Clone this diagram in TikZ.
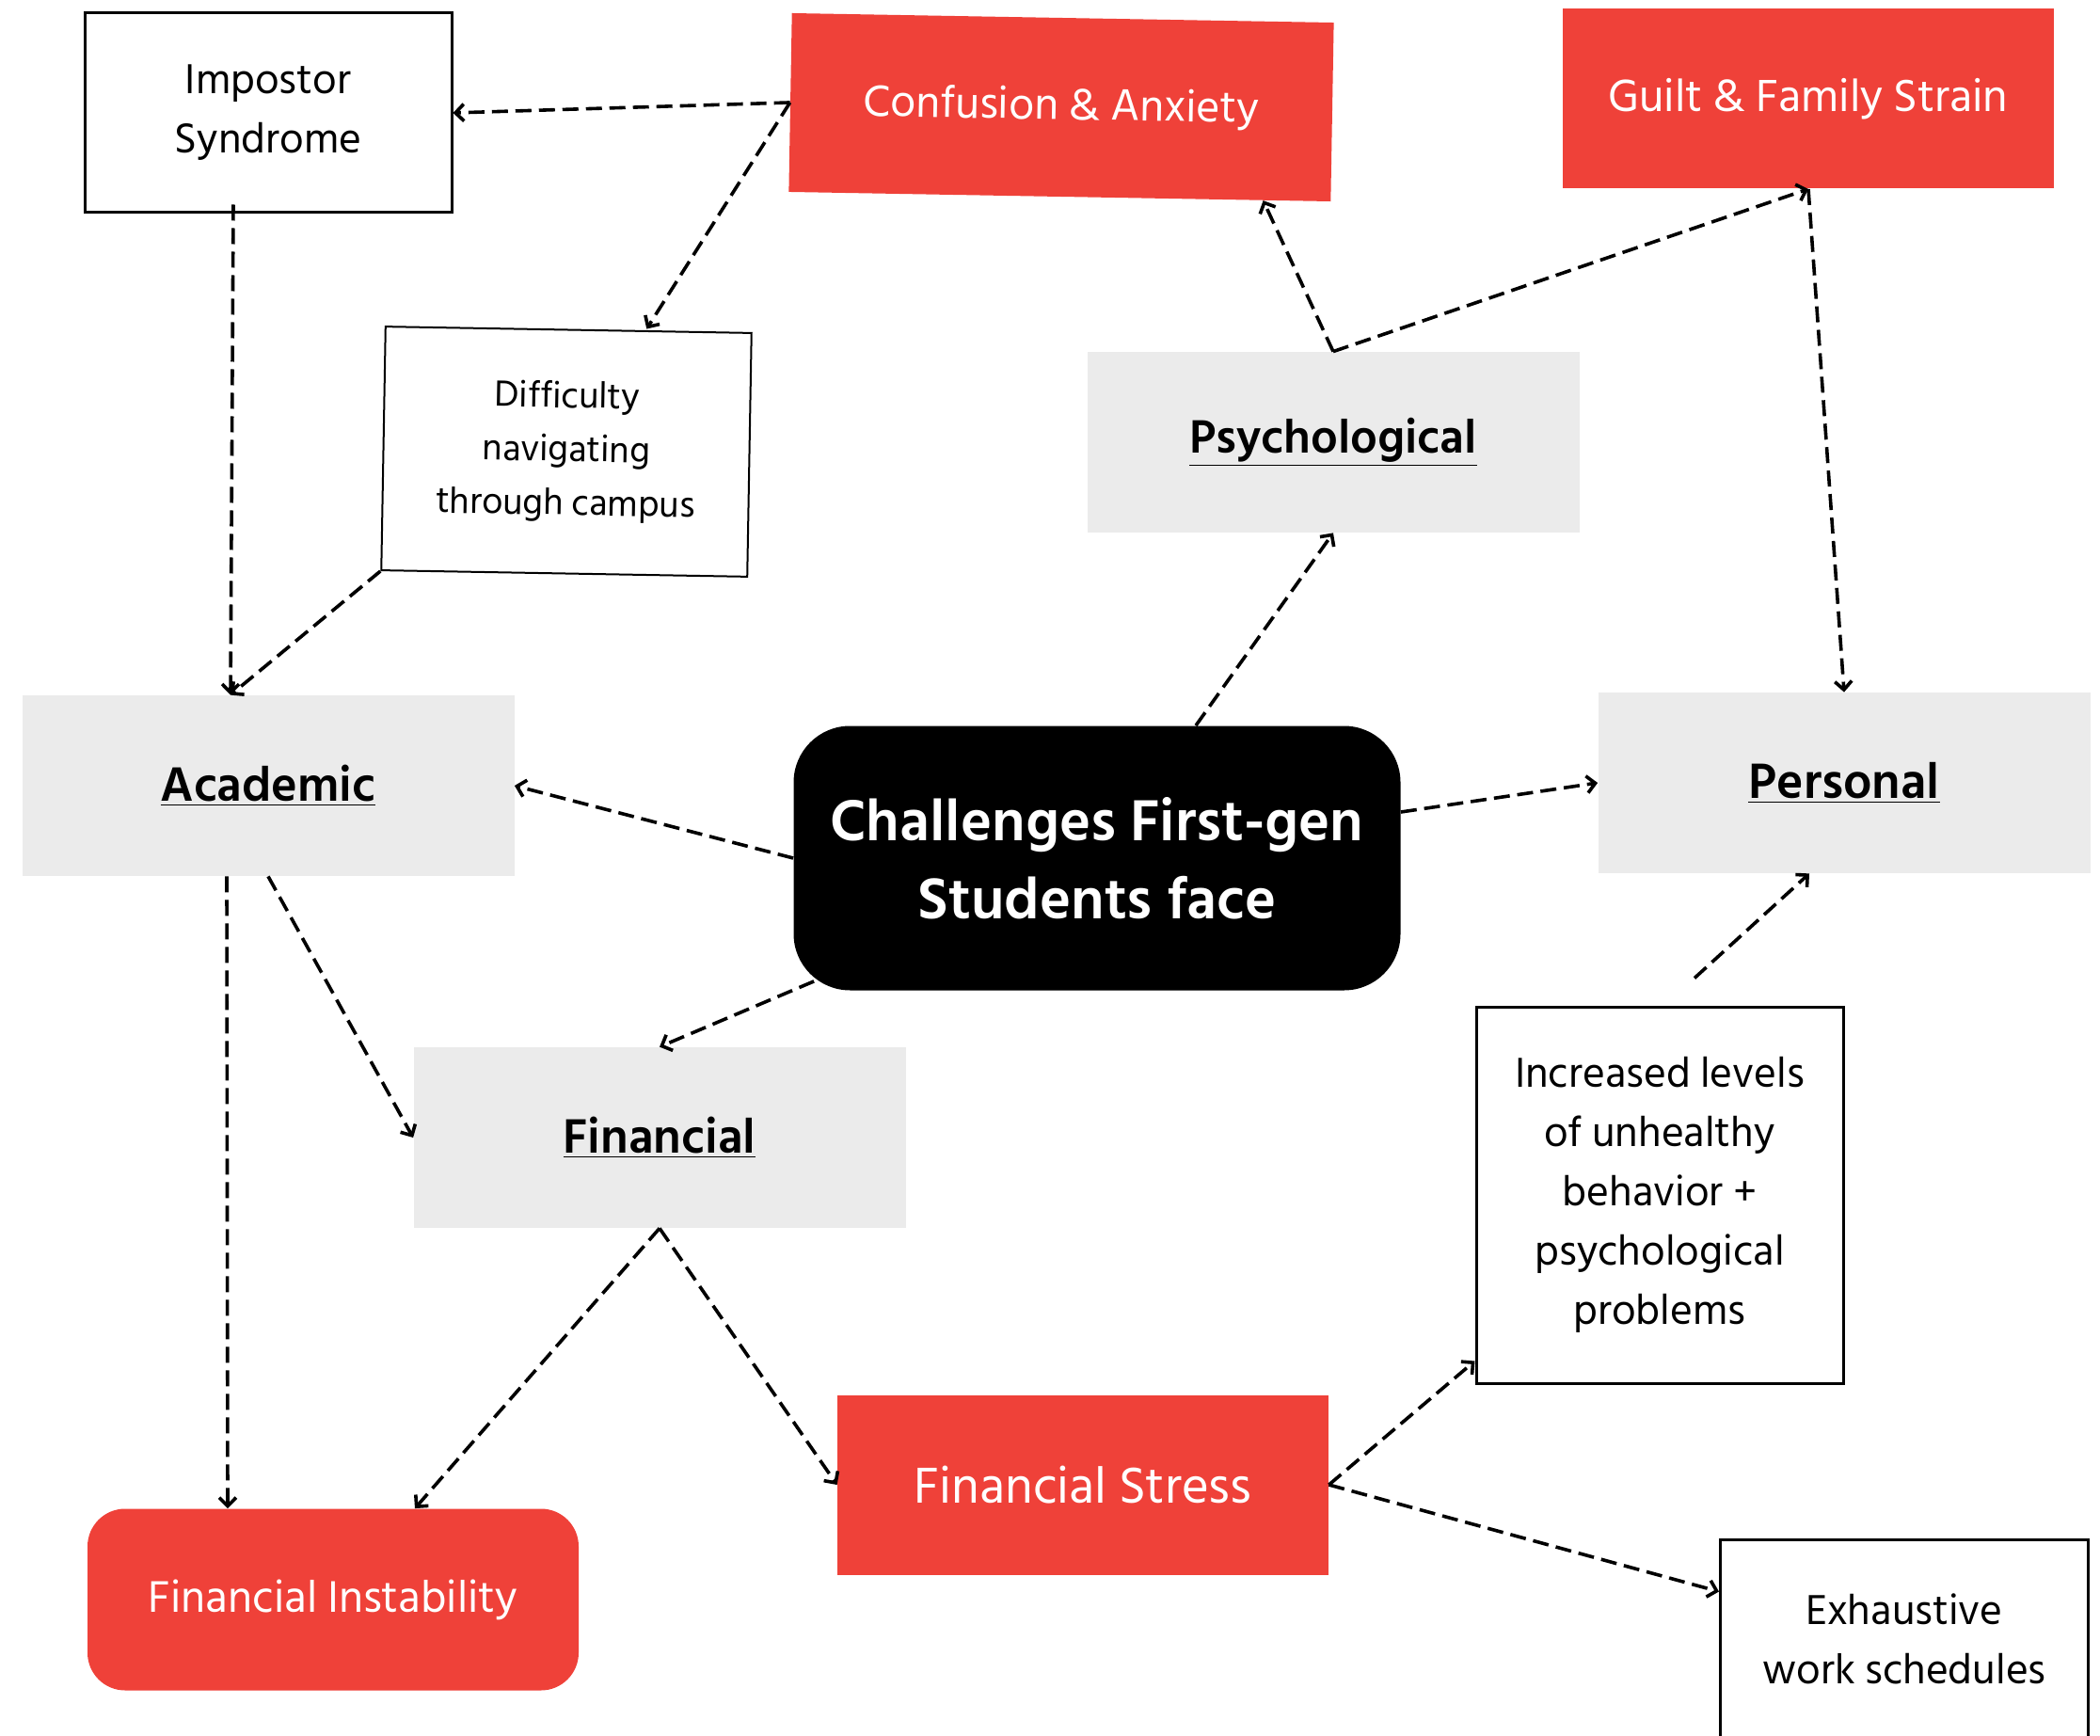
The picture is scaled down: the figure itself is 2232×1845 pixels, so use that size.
\documentclass[tikz,border=0pt]{standalone}
\usepackage{fontspec}
\setmainfont{Hind Siliguri}
\usetikzlibrary{arrows.meta,calc}
\definecolor{cred}{RGB}{239,65,57}
\definecolor{cgray}{RGB}{235,235,235}
\begin{document}
\begin{tikzpicture}[x=0.5pt,y=-0.5pt,
  every node/.style={align=center,inner sep=0pt},
  wbox/.style={draw=black,line width=1.5pt,fill=white,font=\fontsize{22.8}{31.5}\selectfont},
  thinbox/.style={draw=black,line width=1pt,fill=white,font=\fontsize{19.8}{28.5}\selectfont},
  redbox/.style={fill=cred,text=white,minimum width=261pt,minimum height=95.5pt,font=\fontsize{24}{30}\selectfont},
  graybox/.style={fill=cgray,minimum width=261.5pt,minimum height=96pt,font=\bfseries\fontsize{26.3}{30}\selectfont},
  blackbox/.style={fill=black,text=white,rounded corners=30pt,font=\bfseries\fontsize{31.5}{41.5}\selectfont},
  arr/.style={draw=black,line width=1.8pt,dash pattern=on 8.5pt off 4pt,-{Straight Barb[length=4.5pt,width=9pt]}}
]
\fill[white] (0,0) rectangle (2232,1845);
\useasboundingbox (0,0) rectangle (2232,1845);

\node[wbox,minimum width=195pt,minimum height=106pt] (imp) at (285,120) {Impostor\\Syndrome};
\node[redbox,rotate=-1,minimum width=288pt,minimum height=95pt] (conf) at (1128,114) {Confusion \& Anxiety};
\node[redbox,font=\fontsize{24.5}{30}\selectfont] (guilt) at (1922,105) {Guilt \& Family Strain};
\node[thinbox,rotate=-1,minimum width=194.5pt,minimum height=129.5pt] (diff) at (602,480) {Difficulty\\navigating\\through campus};
\node[graybox,font=\bfseries\fontsize{25.5}{30}\selectfont] (psy) at (1417,470) {\underline{Psychological}};
\node[graybox] (acad) at (285,835) {\underline{Academic}};
\node[blackbox,minimum width=322.5pt,minimum height=140.5pt] (chal) at (1166,912) {Challenges First-gen\\Students face};
\node[graybox,font=\bfseries\fontsize{27}{30}\selectfont] (pers) at (1960,832) {\underline{Personal}};
\node[graybox] (fin) at (701,1209) {\underline{Financial}};
\node[wbox,minimum width=195pt,minimum height=200pt] (incr) at (1764,1270) {Increased levels\\of unhealthy\\behavior +\\psychological\\problems};
\node[redbox,font=\fontsize{27.5}{30}\selectfont] (fstress) at (1151,1578) {Financial Stress};
\node[redbox,rounded corners=20pt,minimum height=96.5pt,font=\fontsize{24.1}{30}\selectfont] (finst) at (354,1700) {Financial Instability};
\node[wbox,minimum width=195.5pt,minimum height=106pt] (exh) at (2024,1742) {Exhaustive\\work schedules};

\draw[arr] (conf.west) -- (imp.east);
\draw[arr] (conf.west) -- ($(diff.north)+(83,0)$);
\draw[arr] ($(imp.south)+(-37,-10)$) -- ($(acad.north)+(-40,0)$);
\draw[arr] (diff.south west) -- ($(acad.north)+(-40,0)$);
\draw[arr] (chal.west) -- (acad.east);
\draw[arr] ($(chal.north)+(105,0)$) -- (psy.south);
\draw[arr] (psy.north) -- ($(conf.south)!0.75!(conf.south east)$);
\draw[arr] (psy.north) -- (guilt.south);
\draw[arr] (guilt.south) -- (pers.north);
\draw[arr] ($(chal.east)+(0,-49)$) -- (pers.west);
\draw[arr] ($(incr.north)+(37,-29)$) -- ($(pers.south)+(-37,0)$);
\draw[arr] ($(chal.south west)+(22,-10)$) -- (fin.north);
\draw[arr] (acad.south) -- (fin.west);
\draw[arr] ($(acad.south)+(-44,0)$) -- ($(finst.north)+(-112,0)$);
\draw[arr] (fin.south) -- ($(finst.north)+(87,0)$);
\draw[arr] (fin.south) -- (fstress.west);
\draw[arr] (fstress.east) -- ($(incr.south west)+(0,-25)$);
\draw[arr] (fstress.east) -- ($(exh.north west)+(0,57)$);
\end{tikzpicture}
\end{document}
